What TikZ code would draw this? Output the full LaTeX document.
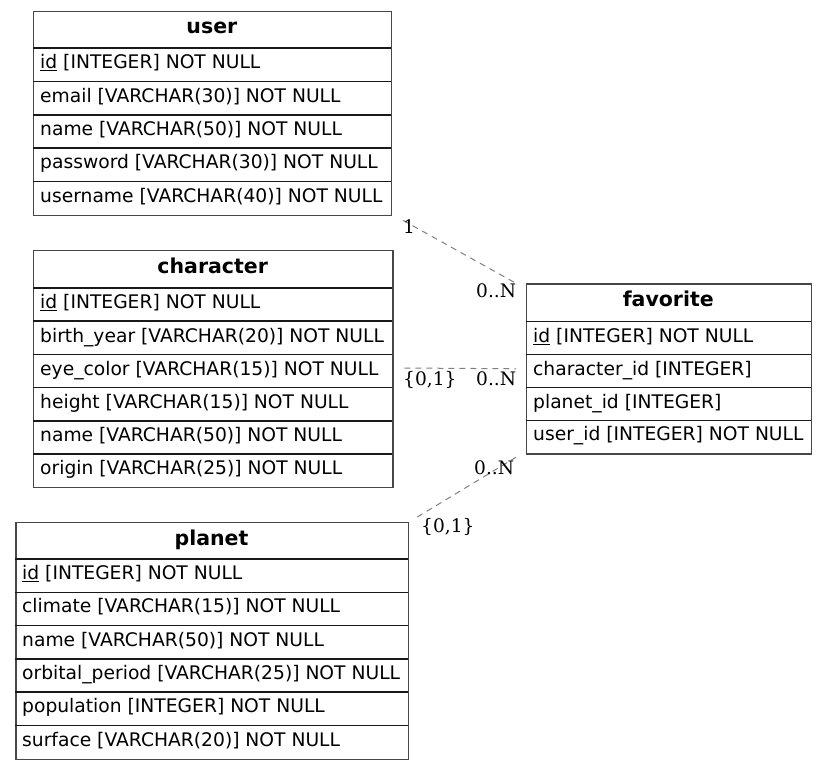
\documentclass[tikz,border=0pt]{standalone}
\usepackage{fontspec}
\setmainfont{DejaVu Sans}
\newfontfamily\cardfont{DejaVu Serif}
\usetikzlibrary{calc}
\begin{document}
\begin{tikzpicture}[x=1pt,y=-1pt,
  tbl/.style={draw=black!72, line width=1.3pt, inner sep=0pt, anchor=north west},
  sep/.style={line width=1.6pt, draw=black!90},
  hdr/.style={font=\fontsize{20.5}{22}\selectfont\bfseries, anchor=base, inner sep=0pt},
  fld/.style={font=\fontsize{18.7}{20}\selectfont, anchor=base west, inner sep=0pt},
  rel/.style={draw=gray, dash pattern=on 6pt off 5pt, line width=1pt},
  card/.style={font=\cardfont\fontsize{18.6}{20}\selectfont, anchor=base west, inner sep=0pt}]
\useasboundingbox (0,0) rectangle (828,770);
\fill[white] (0,0) rectangle (828,770);

% ---------------- user ----------------
\node[tbl, minimum width=357.7pt, minimum height=204.3pt] (user) at (33,10.7) {};
\foreach \y in {48,81.4,114.8,148.2,181.6} \draw[sep] (33,\y) -- (390.7,\y);
\node[hdr] (user-h) at (211.9,34) {user};
\node[fld] (user-1) at (40,68.8) {\underline{id} [INTEGER] NOT NULL};
\node[fld] (user-2) at (40,102.2) {email [VARCHAR(30)] NOT NULL};
\node[fld] (user-3) at (40,135.6) {name [VARCHAR(50)] NOT NULL};
\node[fld] (user-4) at (40,169) {password [VARCHAR(30)] NOT NULL};
\node[fld] (user-5) at (40,202.4) {username [VARCHAR(40)] NOT NULL};

% ---------------- character ----------------
\node[tbl, minimum width=359.3pt, minimum height=237pt] (character) at (33,250) {};
\foreach \y in {288,321.2,354.3,387.5,420.7,453.8} \draw[sep] (33,\y) -- (392.3,\y);
\node[hdr] (character-h) at (212.7,273.3) {character};
\node[fld] (character-1) at (40,308.8) {\underline{id} [INTEGER] NOT NULL};
\node[fld] (character-2) at (40,342) {birth\_year [VARCHAR(20)] NOT NULL};
\node[fld] (character-3) at (40,375.1) {eye\_color [VARCHAR(15)] NOT NULL};
\node[fld] (character-4) at (40,408.3) {height [VARCHAR(15)] NOT NULL};
\node[fld] (character-5) at (40,441.5) {name [VARCHAR(50)] NOT NULL};
\node[fld] (character-6) at (40,474.6) {origin [VARCHAR(25)] NOT NULL};

% ---------------- favorite ----------------
\node[tbl, minimum width=284.5pt, minimum height=170pt] (favorite) at (526,283.3) {};
\foreach \y in {321.7,354.6,387.5,420.4} \draw[sep] (526,\y) -- (810.5,\y);
\node[hdr] (favorite-h) at (668.3,306.6) {favorite};
\node[fld] (favorite-1) at (533,342.2) {\underline{id} [INTEGER] NOT NULL};
\node[fld] (favorite-2) at (533,375.1) {character\_id [INTEGER]};
\node[fld] (favorite-3) at (533,408) {planet\_id [INTEGER]};
\node[fld] (favorite-4) at (533,440.9) {user\_id [INTEGER] NOT NULL};

% ---------------- planet ----------------
\node[tbl, minimum width=392.4pt, minimum height=237.3pt] (planet) at (15.3,521.7) {};
\foreach \y in {559,592.3,625.6,658.9,692.2,725.5} \draw[sep] (15.3,\y) -- (407.7,\y);
\node[hdr] (planet-h) at (211.5,545) {planet};
\node[fld] (planet-1) at (22,579.5) {\underline{id} [INTEGER] NOT NULL};
\node[fld] (planet-2) at (22,612.8) {climate [VARCHAR(15)] NOT NULL};
\node[fld] (planet-3) at (22,646.1) {name [VARCHAR(50)] NOT NULL};
\node[fld] (planet-4) at (22,679.4) {orbital\_period [VARCHAR(25)] NOT NULL};
\node[fld] (planet-5) at (22,712.7) {population [INTEGER] NOT NULL};
\node[fld] (planet-6) at (22,746) {surface [VARCHAR(20)] NOT NULL};

% ---------------- relationships ----------------
\draw[rel] ($(user.south east)+(11,4)$) -- ($(favorite.north west)+(-10,0)$);
\draw[rel] ($(character.north east)+(10.7,118)$) -- ($(favorite.north west)+(-10,85.5)$);
\draw[rel] ($(planet.north east)+(8.3,-4.7)$) -- ($(favorite.south west)+(-10,2.7)$);

\node[card] (c-user) at (403,233.5) {1};
\node[card] (c-fav-user) at (476,297.5) {0..N};
\node[card] (c-char) at (403,385.5) {\{0,1\}};
\node[card] (c-fav-char) at (476,385) {0..N};
\node[card] (c-fav-planet) at (474,474) {0..N};
\node[card] (c-planet) at (421,532) {\{0,1\}};
\end{tikzpicture}
\end{document}
